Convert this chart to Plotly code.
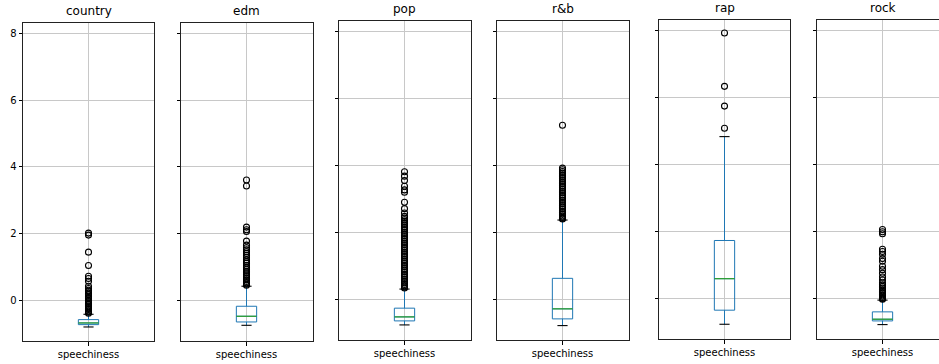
import plotly.graph_objects as go

# Standardised speechiness by playlist genre
genres = ["country", "edm", "pop", "r&b", "rap", "rock"]
q1 = [-0.72, -0.64, -0.64, -0.58, -0.35, -0.67]
medians = [-0.67, -0.47, -0.52, -0.28, 0.59, -0.62]
q3 = [-0.57, -0.17, -0.26, 0.63, 1.73, -0.40]
whisker_low = [-0.79, -0.74, -0.76, -0.78, -0.77, -0.78]
whisker_high = [-0.41, 0.43, 0.31, 2.37, 4.83, -0.05]

outliers_country = [2.02, 1.96, 1.45, 1.05, 0.73, 0.66, 0.58, 0.43, 0.36, 0.31, 0.27,
                    0.22, 0.18, 0.13, 0.09, 0.06, 0.01, -0.03, -0.08, -0.11, -0.16,
                    -0.19, -0.24, -0.27, -0.31, -0.35, -0.38]
outliers_edm = [3.61, 3.43, 2.20, 2.12, 2.07, 1.78, 1.66, 1.58, 1.52, 1.46, 1.41, 1.35,
                1.29, 1.22, 1.17, 1.12, 1.05, 1.00, 0.94, 0.88, 0.83, 0.77, 0.72,
                0.67, 0.62, 0.57, 0.53, 0.49, 0.46]
outliers_pop = [3.81, 3.68, 3.55, 3.38, 3.27, 3.20, 2.90, 2.71, 2.58, 2.48, 2.43, 2.38,
                2.33, 2.27, 2.22, 2.16, 2.11, 2.06, 2.00, 1.95, 1.90, 1.84, 1.79,
                1.73, 1.68, 1.63, 1.57, 1.52, 1.46, 1.41, 1.36, 1.30, 1.25, 1.19,
                1.14, 1.09, 1.03, 0.98, 0.92, 0.87, 0.82, 0.76, 0.71, 0.66, 0.60,
                0.55, 0.50, 0.45, 0.41, 0.37, 0.34]
outliers_rnb = [5.20, 3.92, 3.87, 3.82, 3.77, 3.71, 3.66, 3.61, 3.55, 3.50, 3.45, 3.39,
                3.34, 3.28, 3.23, 3.18, 3.12, 3.07, 3.02, 2.96, 2.91, 2.86, 2.80,
                2.75, 2.70, 2.64, 2.59, 2.54, 2.49, 2.45, 2.42, 2.40]
outliers_rap = [7.92, 6.33, 5.74, 5.08]
outliers_rock = [2.06, 1.99, 1.93, 1.47, 1.40, 1.32, 1.19, 1.11, 0.96, 0.86, 0.75, 0.64,
                 0.55, 0.46, 0.41, 0.36, 0.31, 0.26, 0.21, 0.16, 0.11, 0.07, 0.03,
                 0.00, -0.02]
outliers = [outliers_country, outliers_edm, outliers_pop, outliers_rnb, outliers_rap, outliers_rock]

y_ticks = [0, 2, 4, 6, 8]
x_label = "speechiness"

# Panel frames in pixels: left, right, top, bottom
W, H = 939, 364
frames = [(23, 154, 23, 341), (181, 313, 23, 341), (339, 471, 21, 340),
          (497, 629, 21, 340), (659, 790, 20, 339), (817, 939, 20, 339)]
panel_px = 131.0
y_range = [-1.21, 8.31]
box_w = 0.155

BLUE = "#1f77b4"
GREEN = "#2ca02c"
FONT = "DejaVu Sans"

fig = go.Figure()
layout = dict(
    width=W, height=H,
    margin=dict(l=0, r=0, t=0, b=0),
    paper_bgcolor="white", plot_bgcolor="white",
    showlegend=False,
    font=dict(family=FONT, size=10, color="#000000"),
)
annotations = []

for i, g in enumerate(genres):
    n = i + 1
    xa = "x" if n == 1 else f"x{n}"
    ya = "y" if n == 1 else f"y{n}"
    left, right, top, bottom = frames[i]

    fig.add_trace(go.Box(
        x=[1], q1=[q1[i]], median=[medians[i]], q3=[q3[i]],
        lowerfence=[whisker_low[i]], upperfence=[whisker_high[i]],
        width=box_w, whiskerwidth=0, boxpoints=False,
        line=dict(color=BLUE, width=1), fillcolor="rgba(0,0,0,0)",
        xaxis=xa, yaxis=ya, hoverinfo="skip",
    ))
    # median line
    fig.add_trace(go.Scatter(
        x=[1 - box_w / 2, 1 + box_w / 2], y=[medians[i], medians[i]],
        mode="lines", line=dict(color=GREEN, width=1.2),
        xaxis=xa, yaxis=ya, hoverinfo="skip",
    ))
    # whisker caps
    for v in (whisker_low[i], whisker_high[i]):
        fig.add_trace(go.Scatter(
            x=[1 - box_w / 4, 1 + box_w / 4], y=[v, v],
            mode="lines", line=dict(color="#000000", width=1.1),
            xaxis=xa, yaxis=ya, hoverinfo="skip",
        ))
    # fliers
    fig.add_trace(go.Scatter(
        x=[1] * len(outliers[i]), y=outliers[i], mode="markers",
        marker=dict(symbol="circle-open", size=6, color="#000000",
                    line=dict(width=1.1, color="#000000")),
        xaxis=xa, yaxis=ya, hoverinfo="skip",
    ))

    x_hi = 0.5 + (right - left) / panel_px
    layout["xaxis" if n == 1 else f"xaxis{n}"] = dict(
        domain=[left / W, right / W], range=[0.5, x_hi],
        tickvals=[1], ticktext=[x_label], ticks="outside", ticklen=3.5,
        tickcolor="#000000", tickwidth=1,
        showgrid=True, gridcolor="#c8c8c8", gridwidth=1,
        showline=True, linecolor="#222222", linewidth=1, mirror=True,
        zeroline=False, anchor=ya, fixedrange=True,
        tickfont=dict(family=FONT, size=10, color="#000000"),
    )
    layout["yaxis" if n == 1 else f"yaxis{n}"] = dict(
        domain=[(H - bottom) / H, (H - top) / H], range=y_range,
        tickvals=y_ticks, ticktext=[str(t) for t in y_ticks],
        showticklabels=(n == 1), ticks="outside", ticklen=3.5,
        tickcolor="#000000", tickwidth=1,
        showgrid=True, gridcolor="#c8c8c8", gridwidth=1,
        showline=True, linecolor="#222222", linewidth=1,
        mirror=(n != len(genres)),
        zeroline=False, anchor=xa, fixedrange=True,
        tickfont=dict(family=FONT, size=10, color="#000000"),
    )
    annotations.append(dict(
        text=g, x=(left + min(right, left + panel_px)) / 2 / W if n != len(genres) else (left + panel_px / 2) / W,
        y=(H - top) / H, xref="paper", yref="paper",
        xanchor="center", yanchor="bottom", yshift=3, showarrow=False,
        font=dict(family=FONT, size=12, color="#000000"),
    ))

layout["annotations"] = annotations
fig.update_layout(**layout)
fig.write_html("out.html")
